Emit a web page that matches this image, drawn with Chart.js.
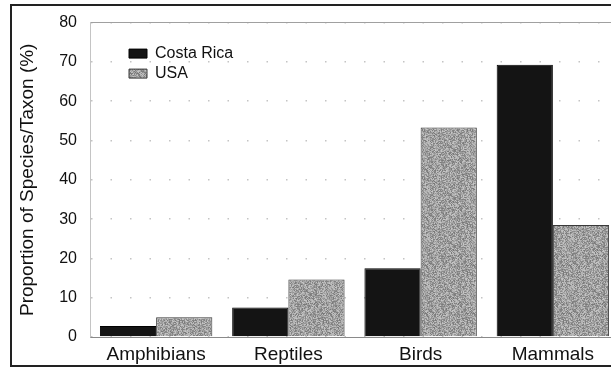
<!DOCTYPE html>
<html>
<head>
<meta charset="utf-8">
<script src="https://cdn.jsdelivr.net/npm/chart.js@4.4.1/dist/chart.umd.min.js"></script>
<style>
  body { margin: 0; background: #fff; overflow: hidden; }
  #wrap { position: relative; width: 630px; height: 369px; }
  #frame { position: absolute; left: 10px; top: 4px; width: 640px; height: 359px;
           border-left: 2px solid #222; border-top: 2px solid #222; border-bottom: 2px solid #222;
           pointer-events: none; }
</style>
</head>
<body>
<div id="wrap">
  <canvas id="Graph_Taxa" width="630" height="369"></canvas>
  <div id="frame"></div>
</div>
<script>
var categories = ["Amphibians", "Reptiles", "Birds", "Mammals"];
var costa_rica = [2.8, 7.5, 17.5, 69.3];
var usa = [5.0, 14.6, 53.3, 28.5];
var y_ticks = [0, 10, 20, 30, 40, 50, 60, 70, 80];

// speckled grey fill like the scanned original
function makeSpeckle() {
    var c = document.createElement("canvas");
    c.width = 48;
    c.height = 48;
    var g = c.getContext("2d");
    var img = g.createImageData(48, 48);
    var seed = 12345;
    for (var i = 0; i < 48 * 48; i++) {
        seed = (seed * 1103515245 + 12345) % 2147483648;
        var v = 120 + Math.floor((seed / 2147483648) * 80);
        img.data[i * 4] = v;
        img.data[i * 4 + 1] = v;
        img.data[i * 4 + 2] = v;
        img.data[i * 4 + 3] = 255;
    }
    g.putImageData(img, 0, 0);
    return c;
}

var ctx = document.getElementById("Graph_Taxa").getContext("2d");
var speckle = ctx.createPattern(makeSpeckle(), "repeat");

// move the legend inside the plot, top-left
var legendInside = {
    id: "legendInside",
    afterLayout: function (chart) {
        var lg = chart.legend;
        lg.left = chart.chartArea.left + 35;
        lg.top = chart.chartArea.top + 19;
    }
};

var graph = new Chart(ctx, {
    type: "bar",
    data: {
        labels: categories,
        datasets: [{
            label: "Costa Rica",
            data: costa_rica,
            backgroundColor: "#141414",
            borderColor: "#000",
            borderWidth: 1
        }, {
            label: "USA",
            data: usa,
            backgroundColor: speckle,
            borderColor: "#3a3a3a",
            borderWidth: 1
        }]
    },
    options: {
        responsive: false,
        animation: false,
        layout: { padding: { top: 10, right: 11, left: 0, bottom: 0 } },
        datasets: {
            bar: { categoryPercentage: 0.85, barPercentage: 1.0 }
        },
        plugins: {
            tooltip: { enabled: false },
            legend: {
                position: "chartArea",
                align: "start",
                labels: {
                    boxWidth: 18,
                    boxHeight: 9,
                    padding: 4,
                    color: "#111",
                    font: { family: "Liberation Sans, Arial", size: 16 }
                }
            }
        },
        scales: {
            x: {
                grid: { display: false, drawTicks: false },
                border: { display: true, color: "#8a8a8a", width: 1 },
                ticks: {
                    padding: 6,
                    color: "#111",
                    font: { family: "Liberation Sans, Arial", size: 19 }
                },
                afterFit: function (scale) { scale.height = 32; }
            },
            x2: {
                position: "top",
                labels: categories,
                grid: { display: false, drawTicks: false },
                ticks: { display: false },
                border: { display: true, color: "#a0a0a0", width: 1 }
            },
            y: {
                min: 0,
                max: 80,
                afterBuildTicks: function (scale) {
                    scale.ticks = y_ticks.map(function (v) { return { value: v }; });
                },
                grid: {
                    color: "#c4c4c4",
                    lineWidth: 1.5,
                    drawTicks: false
                },
                border: { display: true, color: "#c4c4c4", width: 1, dash: [1.5, 18] },
                ticks: {
                    padding: 13,
                    color: "#111",
                    font: { family: "Liberation Sans, Arial", size: 16 }
                },
                title: {
                    display: true,
                    text: "Proportion of Species/Taxon (%)",
                    color: "#111",
                    padding: { top: 16, bottom: 0 },
                    font: { family: "Liberation Sans, Arial", size: 19 }
                },
                afterFit: function (scale) { scale.width = 90; }
            }
        }
    },
    plugins: [legendInside]
});
</script>
</body>
</html>
